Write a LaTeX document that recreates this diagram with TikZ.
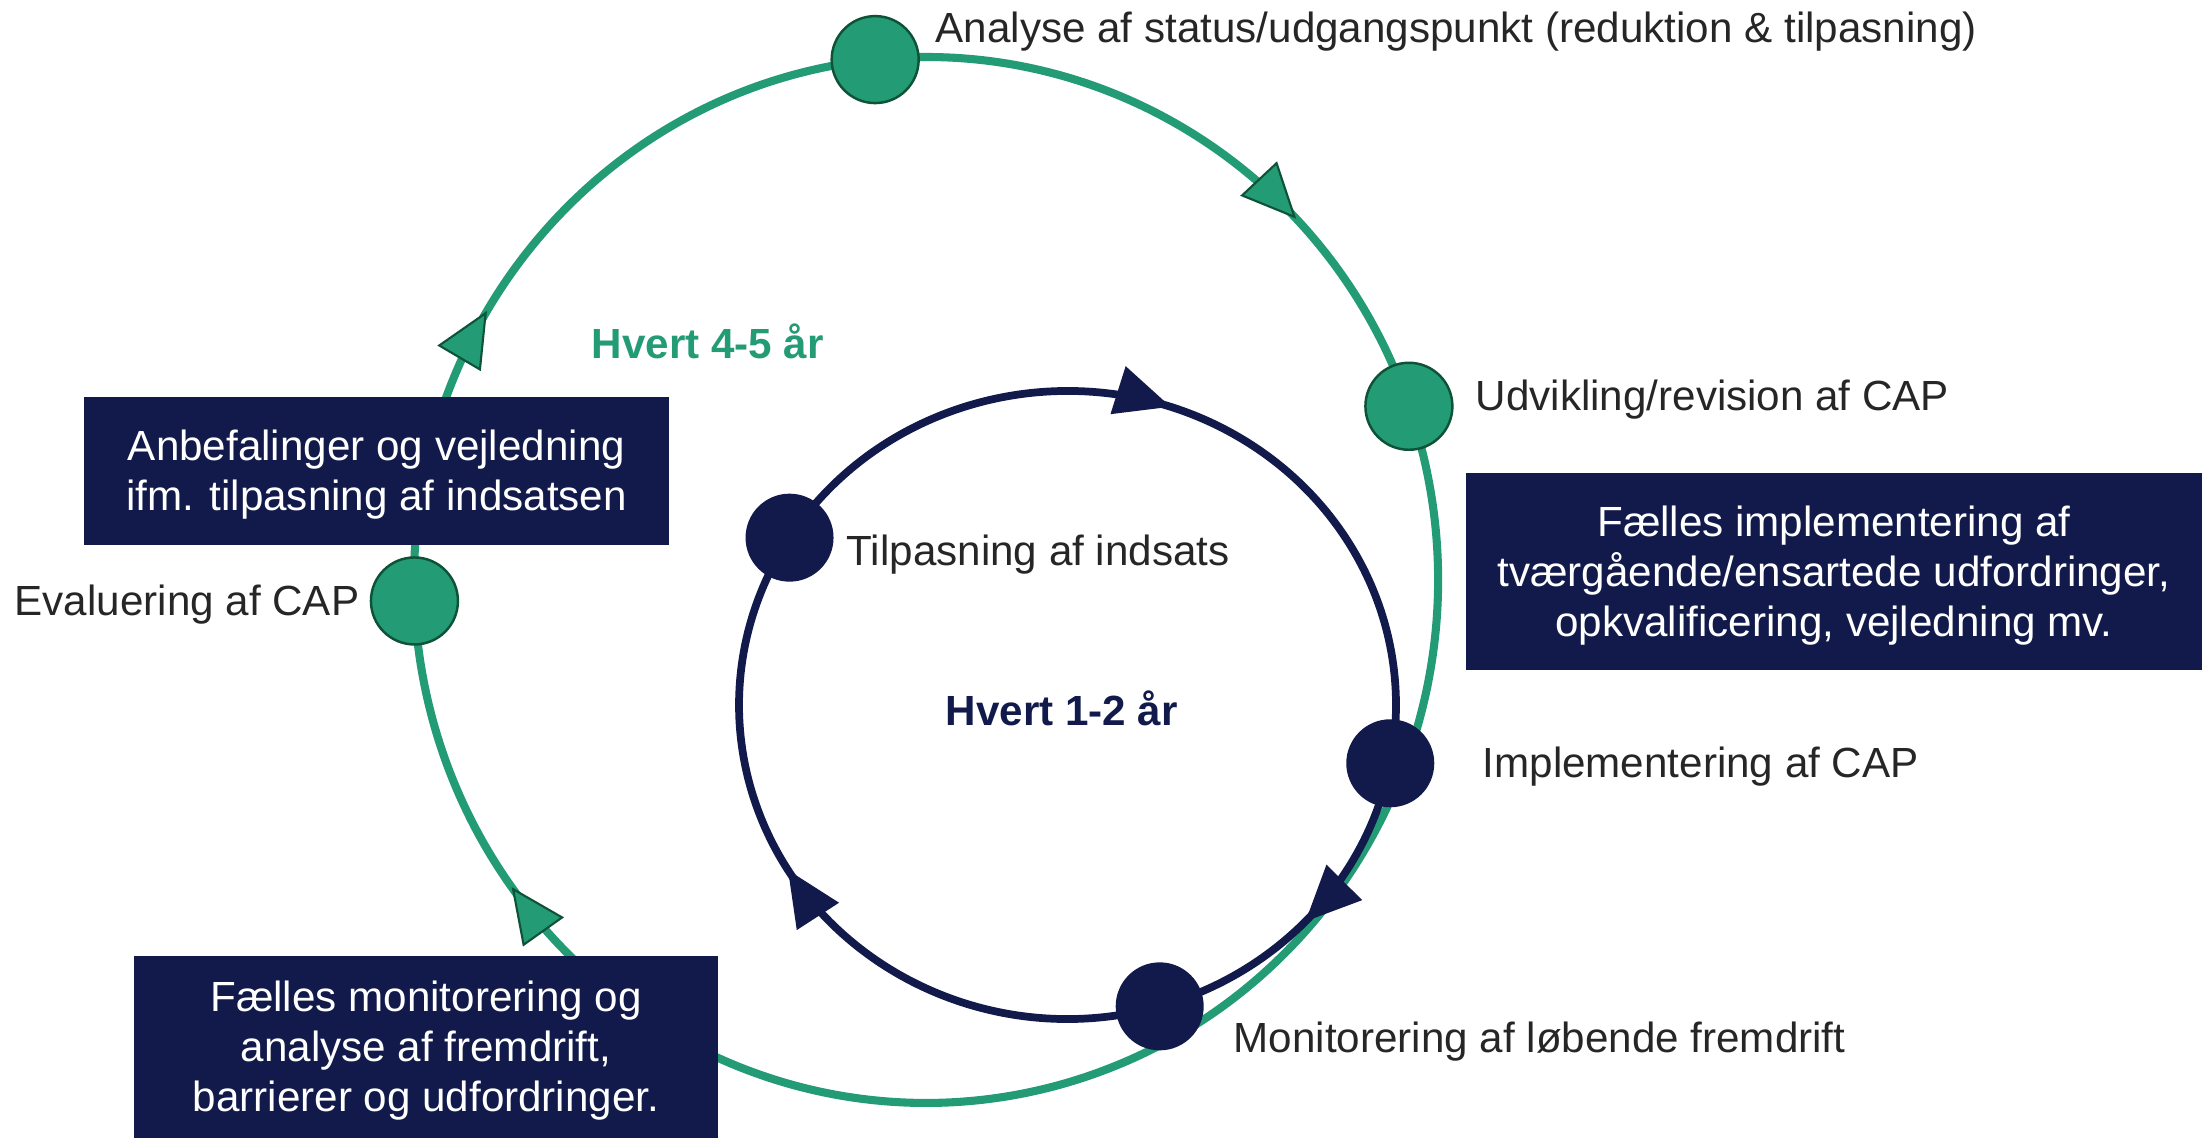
\documentclass[tikz,border=0pt]{standalone}
\usepackage{fontspec}
\setmainfont{Liberation Sans}
\usepackage{tikz}
\usetikzlibrary{arrows.meta, calc, decorations.markings}
\definecolor{capgreen}{RGB}{35,155,117}
\definecolor{capdark}{RGB}{14,82,56}
\definecolor{capnavy}{RGB}{17,26,75}
\definecolor{captext}{RGB}{38,38,38}
\newcommand{\topstrut}{\rule{0pt}{0.38cm}}

\begin{document}
\begin{tikzpicture}[
          font=\fontsize{12}{14.2}\selectfont,
          gtip/.tip={Triangle[length=5.5mm, width=5mm, fill=capgreen, color=capdark, line width=0.6pt]},
          ntip/.tip={Triangle[length=5.5mm, width=5mm, fill=capnavy, color=capnavy, line width=0.4pt]},
          gflow/.style={draw=capgreen, line width=2.3pt,
            postaction={decorate, decoration={markings, mark=at position #1 with {\arrow{gtip}}}}},
          nflow/.style={draw=capnavy, line width=2.2pt,
            postaction={decorate, decoration={markings, mark=at position #1 with {\arrow{ntip}}}}},
          gdot/.style={circle, fill=capgreen, draw=capdark, line width=0.7pt, minimum size=0.87cm, inner sep=0pt},
          ndot/.style={circle, fill=capnavy, minimum size=0.88cm, inner sep=0pt},
          box/.style={fill=capnavy, text=white, align=center, inner sep=0pt},
          lbl/.style={anchor=base west, inner sep=0pt, text=captext}]

          \useasboundingbox (0,0) rectangle (22.02,11.38);

          % Ring centres
          \coordinate (gc) at (9.26,5.58);
          \coordinate (nc) at (10.675,4.33);

          % Stations
          \coordinate (ana) at ($(gc)+(95.7:5.12 and 5.23)$);
          \coordinate (udv) at ($(gc)+(19.4:5.12 and 5.23)$);
          \coordinate (evl) at ($(gc)+(182.3:5.12 and 5.23)$);
          \coordinate (tlp) at ($(nc)+(147.8:3.285 and 3.14)$);
          \coordinate (imp) at ($(nc)+(-10.7:3.285 and 3.14)$);
          \coordinate (mon) at ($(nc)+(-73.7:3.285 and 3.14)$);

          % Outer cycle (4-5 years)
          \draw[gflow=0.679] (ana) arc[start angle=95.7, delta angle=-76.3, x radius=5.12, y radius=5.23];
          \draw[gflow=0.828] (udv) arc[start angle=19.4, delta angle=-197.1, x radius=5.12, y radius=5.23];
          \draw[gflow=0.387] (evl) arc[start angle=182.3, delta angle=-86.6, x radius=5.12, y radius=5.23];

          % Inner cycle (1-2 years)
          \draw[nflow=0.485] (tlp) arc[start angle=147.8, delta angle=-158.5, x radius=3.285, y radius=3.14];
          \draw[nflow=0.516] (imp) arc[start angle=-10.7, delta angle=-63, x radius=3.285, y radius=3.14];
          \draw[nflow=0.546] (mon) arc[start angle=-73.7, delta angle=-138.5, x radius=3.285, y radius=3.14];

          % Boxes
          \node[box, minimum width=5.85cm, minimum height=1.48cm] (b1) at (3.765,6.67)
               {\topstrut Anbefalinger og vejledning\\ifm. tilpasning af indsatsen};
          \node[box, minimum width=7.36cm, minimum height=1.97cm] (b2) at (18.34,5.665)
               {\topstrut Fælles implementering af\\tværgående/ensartede udfordringer,\\opkvalificering, vejledning mv.};
          \node[box, minimum width=5.84cm, minimum height=1.82cm] (b3) at (4.26,0.91)
               {\topstrut Fælles monitorering og\\analyse af fremdrift,\\barrierer og udfordringer.};

          % Nodes
          \node[gdot] (n1) at (ana) {};
          \node[gdot] (n2) at (udv) {};
          \node[gdot] (n3) at (evl) {};
          \node[ndot] (n4) at (tlp) {};
          \node[ndot] (n5) at (imp) {};
          \node[ndot] (n6) at (mon) {};

          % Labels
          \node[lbl] (l1) at (9.35,10.95) {Analyse af status/udgangspunkt (reduktion \& tilpasning)};
          \node[lbl] (l2) at (14.75,7.27) {Udvikling/revision af CAP};
          \node[lbl] (l3) at (0.14,5.22) {Evaluering af CAP};
          \node[lbl] (l4) at (8.46,5.72) {Tilpasning af indsats};
          \node[lbl] (l5) at (14.82,3.60) {Implementering af CAP};
          \node[lbl] (l6) at (12.33,0.85) {Monitorering af løbende fremdrift};
          \node[lbl, text=capgreen, font=\fontsize{12}{14.2}\selectfont\bfseries] (h1) at (5.91,7.79) {Hvert 4-5 år};
          \node[lbl, text=capnavy, font=\fontsize{12}{14.2}\selectfont\bfseries] (h2) at (9.45,4.12) {Hvert 1-2 år};
        \end{tikzpicture}
\end{document}
